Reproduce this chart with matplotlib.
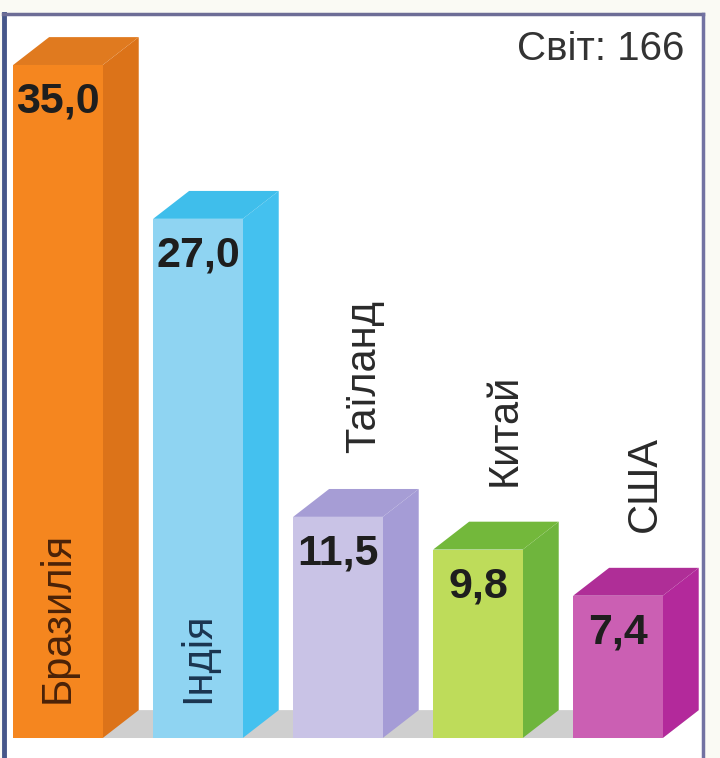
"""3D-style bar chart: world production by country (Світ: 166)."""
import matplotlib
matplotlib.use("Agg")
import matplotlib.pyplot as plt
from matplotlib.patches import Polygon, Rectangle
from matplotlib.lines import Line2D

countries = ["Бразилія", "Індія", "Таїланд", "Китай", "США"]
values = [35.0, 27.0, 11.5, 9.8, 7.4]
value_labels = ["35,0", "27,0", "11,5", "9,8", "7,4"]
world_label = "Світ: 166"

front_colors = ["#F5861F", "#8FD4F2", "#C9C3E6", "#BEDC5A", "#CB5FB3"]
side_colors = ["#DC7319", "#44C1EF", "#A59CD6", "#6FB53D", "#B3299B"]
top_colors = ["#E07A1F", "#3FBEEB", "#A69DD5", "#73B83B", "#AF2E97"]
name_colors = ["#4A2208", "#1B3550", "#2A2A2A", "#2A2A2A", "#2A2A2A"]
name_inside = [True, True, False, False, False]

W = 0.64      # front width (bar units)
DX = 0.257    # depth offset, x
DY = 1.45     # depth offset, y

plt.rcParams["font.family"] = ["Liberation Sans", "DejaVu Sans"]

fig = plt.figure(figsize=(7.2, 7.58), dpi=100)
fig.patch.set_facecolor("#FAFAF4")
ax = fig.add_axes([0, 0, 1, 1])
ax.set_xlim(-0.414, 4.729)
ax.set_ylim(-1.04, 38.38)
ax.axis("off")

# white panel inside the frame
ax.add_patch(Rectangle((0.006, 0), 0.971, 0.982, transform=fig.transFigure,
                       facecolor="white", edgecolor="none", zorder=0, clip_on=False))
fig.add_artist(Line2D([0.006, 0.006], [0, 0.982], color="#46578A", lw=3.5))
fig.add_artist(Line2D([0.004, 0.977], [0.982, 0.982], color="#6D6D96", lw=2.5))
fig.add_artist(Line2D([0.977, 0.977], [0, 0.982], color="#7272A2", lw=2.5))

# floor
x0 = -W / 2
x1 = len(values) - 1 + W / 2
ax.add_patch(Polygon([(x0, 0), (x1, 0), (x1 + DX, DY), (x0 + DX, DY)],
                     closed=True, facecolor="#CFCFCF", edgecolor="none", zorder=1))

for i, v in enumerate(values):
    l, r = i - W / 2, i + W / 2
    ax.add_patch(Polygon([(r, 0), (r + DX, DY), (r + DX, v + DY), (r, v)],
                         facecolor=side_colors[i], edgecolor="none", zorder=2))
    ax.add_patch(Polygon([(l, v), (r, v), (r + DX, v + DY), (l + DX, v + DY)],
                         facecolor=top_colors[i], edgecolor="none", zorder=2))
    ax.add_patch(Polygon([(l, 0), (r, 0), (r, v), (l, v)],
                         facecolor=front_colors[i], edgecolor="none", zorder=3))
    ax.text(i, v - 1.9, value_labels[i], ha="center", va="center",
            fontsize=31, fontweight="bold", color="#1E1E1E", zorder=4)
    if name_inside[i]:
        ax.text(i, 1.8, countries[i], rotation=90, ha="center", va="bottom",
                fontsize=30, color=name_colors[i], zorder=4)
    else:
        ax.text(i + 0.19, v + DY + 1.87, countries[i], rotation=90, ha="center",
                va="bottom", fontsize=30, color=name_colors[i], zorder=4)

fig.text(0.951, 0.960, world_label, ha="right", va="top", fontsize=29, color="#333333")

fig.savefig("out.png", dpi=100, facecolor=fig.get_facecolor())
